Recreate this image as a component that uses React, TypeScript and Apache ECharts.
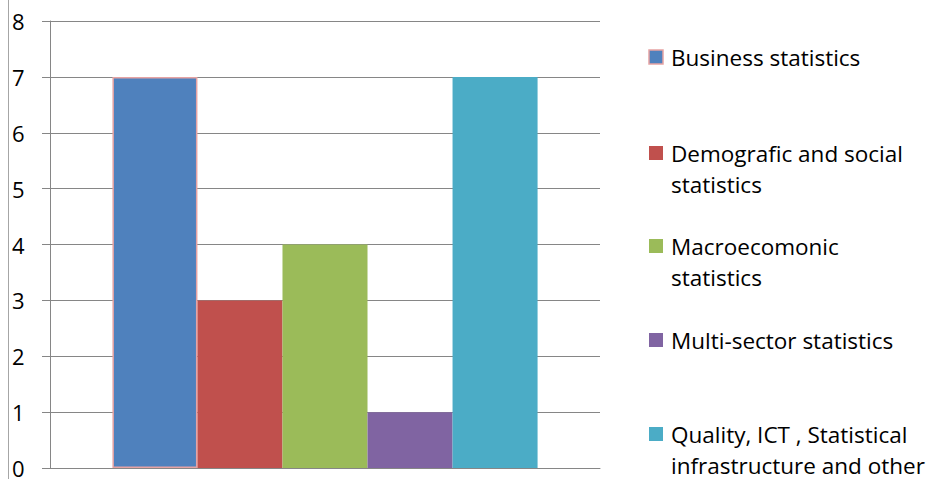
import React, { useEffect, useRef } from "react";
import * as echarts from "echarts";

const categories = [""];
const seriesNames = [
  "Business statistics",
  "Demografic and social statistics",
  "Macroecomonic statistics",
  "Multi-sector statistics",
  "Quality, ICT , Statistical infrastructure and other",
];
const legendLines = [
  ["Business statistics"],
  ["Demografic and social", "statistics"],
  ["Macroecomonic", "statistics"],
  ["Multi-sector statistics"],
  ["Quality, ICT , Statistical", "infrastructure and other"],
];
const seriesValues = [7, 3, 4, 1, 7];
const colors = ["#4F81BD", "#C0504D", "#9BBB59", "#8064A2", "#4BACC6"];
const yTicks = [0, 1, 2, 3, 4, 5, 6, 7, 8];
const legendTops = [57, 153, 246, 340, 434];

const FONT = "'Open Sans', Lato, sans-serif";

export default function App() {
  const ref = useRef<HTMLDivElement>(null);
  useEffect(() => {
    if (!ref.current) return;
    const chart = echarts.init(ref.current, null, { renderer: "svg" });
    const graphics: any[] = [
      {
        type: "line",
        shape: { x1: 8.5, y1: 0, x2: 8.5, y2: 479 },
        style: { stroke: "#A6A6A6", lineWidth: 1 },
        silent: true,
      },
    ];
    seriesNames.forEach((_, i) => {
      const cy = legendTops[i];
      graphics.push({
        type: "rect",
        shape: { x: 649, y: cy - 7, width: 14, height: 14 },
        style: {
          fill: colors[i],
          stroke: i === 0 ? "#E6A3A3" : colors[i],
          lineWidth: i === 0 ? 1.5 : 0,
        },
        silent: true,
      });
      graphics.push({
        type: "text",
        x: 671,
        y: cy - 15.5,
        style: {
          text: legendLines[i].join("\n"),
          font: `22.5px ${FONT}`,
          fill: "#000000",
          lineHeight: 31,
          verticalAlign: "top",
          align: "left",
        },
        silent: true,
      });
    });
    chart.setOption({
      animation: false,
      grid: { left: 50, right: 335, top: 21, bottom: 11, containLabel: false },
      xAxis: {
        type: "category",
        data: categories,
        axisLine: { show: true, lineStyle: { color: "#868686", width: 1 } },
        axisTick: { show: false },
        axisLabel: { show: false },
      },
      yAxis: {
        type: "value",
        min: yTicks[0],
        max: yTicks[yTicks.length - 1],
        interval: 1,
        axisLine: { show: true, lineStyle: { color: "#868686", width: 1 } },
        axisTick: { show: true, length: 8, lineStyle: { color: "#868686" } },
        axisLabel: {
          margin: 38,
          fontSize: 22,
          fontFamily: FONT,
          color: "#000000",
          align: "left",
        },
        splitLine: { show: true, lineStyle: { color: "#868686", width: 1 } },
      },
      series: seriesNames.map((name, i) => ({
        type: "bar",
        name,
        data: [seriesValues[i]],
        barGap: "0%",
        barCategoryGap: "22.7%",
        itemStyle: {
          color: colors[i],
          borderColor: i === 0 ? "#E6A3A3" : colors[i],
          borderWidth: i === 0 ? 1.5 : 0,
        },
      })),
      graphic: graphics,
    });
    return () => chart.dispose();
  }, []);
  return (
    <div
      ref={ref}
      style={{ position: "fixed", left: 0, top: 0, width: 935, height: 479, background: "#fff" }}
    />
  );
}
